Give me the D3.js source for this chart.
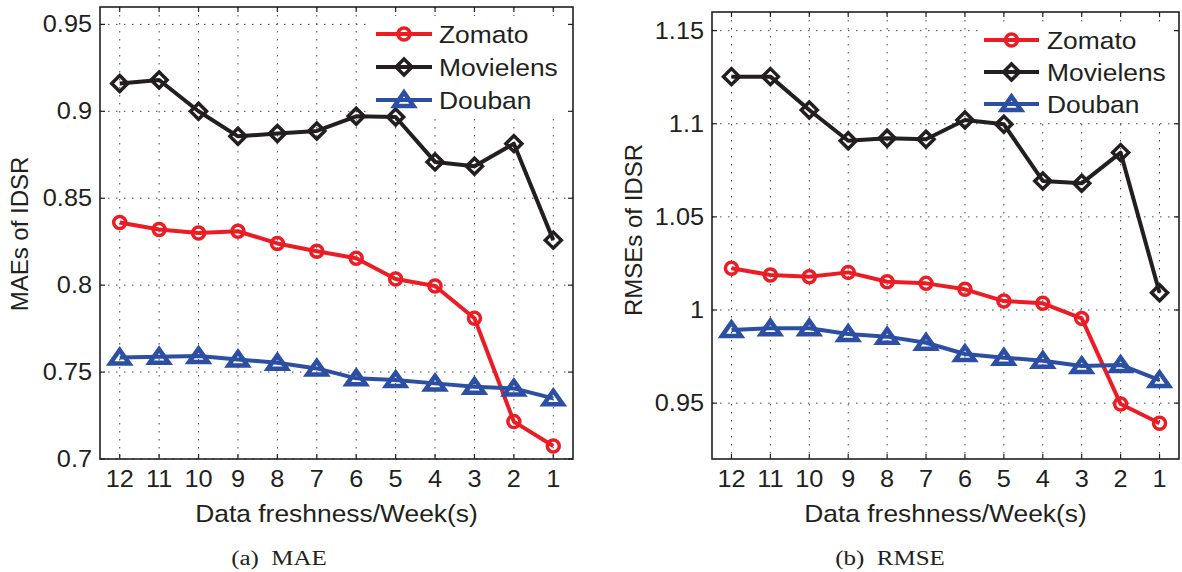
<!DOCTYPE html>
<html>
<head>
<meta charset="utf-8">
<script src="https://cdn.jsdelivr.net/npm/d3@7"></script>
<style>
  body { margin: 0; background: #fff; }
  svg { display: block; }
</style>
</head>
<body>
<svg id="chart" width="1182" height="572"></svg>
<script>
// weeks run from 12 down to 1 along the x axis
const weeks = [12, 11, 10, 9, 8, 7, 6, 5, 4, 3, 2, 1];
const seriesNames = ["Zomato", "Movielens", "Douban"];

const maeZomato    = [0.836, 0.832, 0.830, 0.831, 0.824, 0.8195, 0.8155, 0.8035, 0.7995, 0.781, 0.7215, 0.7075];
const maeMovielens = [0.916, 0.918, 0.900, 0.8856, 0.8872, 0.8887, 0.8971, 0.8967, 0.8709, 0.8684, 0.8814, 0.8259];
const maeDouban    = [0.7584, 0.7588, 0.7592, 0.7573, 0.7554, 0.7521, 0.7464, 0.7454, 0.7435, 0.7416, 0.7406, 0.7349];

const rmseZomato    = [1.0224, 1.0188, 1.0179, 1.0202, 1.0152, 1.0143, 1.0111, 1.0048, 1.0036, 0.9955, 0.9495, 0.9392];
const rmseMovielens = [1.1253, 1.1253, 1.1074, 1.0909, 1.0922, 1.0917, 1.102, 1.0997, 1.0693, 1.068, 1.0845, 1.0093];
const rmseDouban    = [0.9893, 0.9902, 0.9902, 0.9871, 0.9857, 0.9824, 0.9764, 0.9744, 0.9728, 0.9699, 0.9705, 0.9624];

const maeTicks  = [0.7, 0.75, 0.8, 0.85, 0.9, 0.95];
const maeTickLabels = ["0.7", "0.75", "0.8", "0.85", "0.9", "0.95"];
const rmseTicks = [0.95, 1, 1.05, 1.1, 1.15];
const rmseTickLabels = ["0.95", "1", "1.05", "1.1", "1.15"];

const colors = {Zomato: "#ec1c24", Movielens: "#231f20", Douban: "#2c4fa3"};
const markerStroke = {Zomato: 3.5, Movielens: 3.5, Douban: 4.5};
const sans = "'Liberation Sans', Arial, Helvetica, sans-serif";
const serif = "'Liberation Serif', 'Times New Roman', serif";

const svg = d3.select("#chart");

// stretched text, the figure looks a bit wider than tall
function addText(g, str, x, y, size, anchor, sx, family) {
    return g.append("text")
        .attr("transform", `translate(${x},${y}) scale(${sx},1)`)
        .attr("text-anchor", anchor)
        .attr("font-family", family || sans)
        .attr("font-size", size)
        .attr("fill", "#231f20")
        .text(str);
}

function markerPath(name) {
    if (name === "Zomato") {
        const r = 6;
        return `M${-r},0A${r},${r} 0 1,0 ${r},0A${r},${r} 0 1,0 ${-r},0Z`;
    }
    if (name === "Movielens") {
        const d = 8;
        return `M0,${-d}L${d},0L0,${d}L${-d},0Z`;
    }
    return "M0,-7.5L9.5,6L-9.5,6Z";
}

function drawPanel(cfg) {
    const g = svg.append("g");
    const x = d3.scaleLinear().domain([12.5, 0.5]).range([cfg.left, cfg.right]);
    const y = d3.scaleLinear().domain(cfg.domain).range([cfg.bottom, cfg.top]);

    // dotted grid
    g.selectAll(".vgrid").data(weeks).enter().append("line")
        .attr("x1", d => x(d)).attr("x2", d => x(d))
        .attr("y1", cfg.top).attr("y2", cfg.bottom)
        .attr("stroke", "#444").attr("stroke-width", 1)
        .attr("stroke-dasharray", "1.5,6.5");
    g.selectAll(".hgrid").data(cfg.ticks).enter().append("line")
        .attr("x1", cfg.left).attr("x2", cfg.right)
        .attr("y1", d => y(d)).attr("y2", d => y(d))
        .attr("stroke", "#444").attr("stroke-width", 1)
        .attr("stroke-dasharray", "1.5,6.5");

    // inward ticks on all four sides (matlab style)
    const tl = 5;
    weeks.forEach(w => {
        g.append("line").attr("x1", x(w)).attr("x2", x(w)).attr("y1", cfg.bottom).attr("y2", cfg.bottom - tl)
            .attr("stroke", "#231f20").attr("stroke-width", 1.2);
        g.append("line").attr("x1", x(w)).attr("x2", x(w)).attr("y1", cfg.top).attr("y2", cfg.top + tl)
            .attr("stroke", "#231f20").attr("stroke-width", 1.2);
    });
    cfg.ticks.forEach(t => {
        g.append("line").attr("x1", cfg.left).attr("x2", cfg.left + tl).attr("y1", y(t)).attr("y2", y(t))
            .attr("stroke", "#231f20").attr("stroke-width", 1.2);
        g.append("line").attr("x1", cfg.right).attr("x2", cfg.right - tl).attr("y1", y(t)).attr("y2", y(t))
            .attr("stroke", "#231f20").attr("stroke-width", 1.2);
    });

    // legend background hides the grid only
    const lg = cfg.legend;
    g.append("rect")
        .attr("x", lg.x0).attr("y", lg.y0 - 18)
        .attr("width", lg.x1 - lg.x0).attr("height", lg.step * 2 + 32)
        .attr("fill", "#fff");

    // tick labels
    weeks.forEach(w => addText(g, String(w), x(w), cfg.bottom + 28, 23, "middle", 1.1));
    cfg.ticks.forEach((t, i) => addText(g, cfg.tickLabels[i], cfg.left - 8, y(t) + 8, 23, "end", 1.1));

    // lines + markers
    cfg.series.forEach(s => {
        const pts = weeks.map((w, i) => [x(w), y(s.values[i])]);
        g.append("path")
            .attr("d", d3.line()(pts))
            .attr("fill", "none")
            .attr("stroke", colors[s.name])
            .attr("stroke-width", 4)
            .attr("stroke-linejoin", "round");
        g.selectAll(null).data(pts).enter().append("path")
            .attr("transform", d => `translate(${d[0]},${d[1]})`)
            .attr("d", markerPath(s.name))
            .attr("fill", "none")
            .attr("stroke", colors[s.name])
            .attr("stroke-width", markerStroke[s.name]);
    });

    // box
    g.append("rect")
        .attr("x", cfg.left).attr("y", cfg.top)
        .attr("width", cfg.right - cfg.left).attr("height", cfg.bottom - cfg.top)
        .attr("fill", "none").attr("stroke", "#231f20").attr("stroke-width", 1.6);

    // legend entries
    seriesNames.forEach((name, i) => {
        const cy = lg.y0 + i * lg.step;
        g.append("line").attr("x1", lg.lineX0).attr("x2", lg.lineX1).attr("y1", cy).attr("y2", cy)
            .attr("stroke", colors[name]).attr("stroke-width", 4);
        g.append("path")
            .attr("transform", `translate(${(lg.lineX0 + lg.lineX1) / 2},${cy})`)
            .attr("d", markerPath(name))
            .attr("fill", "none").attr("stroke", colors[name]).attr("stroke-width", markerStroke[name]);
        addText(g, name, lg.textX, cy + 9, 24, "start", 1.1);
    });

    // axis labels
    addText(g, "Data freshness/Week(s)", (cfg.left + cfg.right) / 2, 522, 24, "middle", 1.1);
    g.append("text")
        .attr("transform", `translate(${cfg.ylabelX},${cfg.ylabelY}) rotate(-90)`)
        .attr("text-anchor", "middle")
        .attr("font-family", sans)
        .attr("font-size", 24)
        .attr("fill", "#231f20")
        .text(cfg.ylabel);

    addText(g, cfg.caption, cfg.captionX, 565, 20, "middle", 1.25, serif);
}

drawPanel({
    left: 100, right: 573, top: 7, bottom: 459,
    domain: [0.7, 0.96],
    ticks: maeTicks, tickLabels: maeTickLabels,
    series: [
        {name: "Zomato", values: maeZomato},
        {name: "Movielens", values: maeMovielens},
        {name: "Douban", values: maeDouban}
    ],
    legend: {x0: 370, x1: 567, y0: 34, step: 33, lineX0: 376, lineX1: 432, textX: 439},
    ylabel: "MAEs of IDSR", ylabelX: 28, ylabelY: 234,
    caption: "(a)\u00a0 MAE", captionX: 279
});

drawPanel({
    left: 712, right: 1179, top: 12, bottom: 459,
    domain: [0.92, 1.16],
    ticks: rmseTicks, tickLabels: rmseTickLabels,
    series: [
        {name: "Zomato", values: rmseZomato},
        {name: "Movielens", values: rmseMovielens},
        {name: "Douban", values: rmseDouban}
    ],
    legend: {x0: 978, x1: 1174, y0: 40, step: 32, lineX0: 984, lineX1: 1039, textX: 1047},
    ylabel: "RMSEs of IDSR", ylabelX: 642, ylabelY: 230,
    caption: "(b)\u00a0 RMSE", captionX: 890
});
</script>
</body>
</html>
